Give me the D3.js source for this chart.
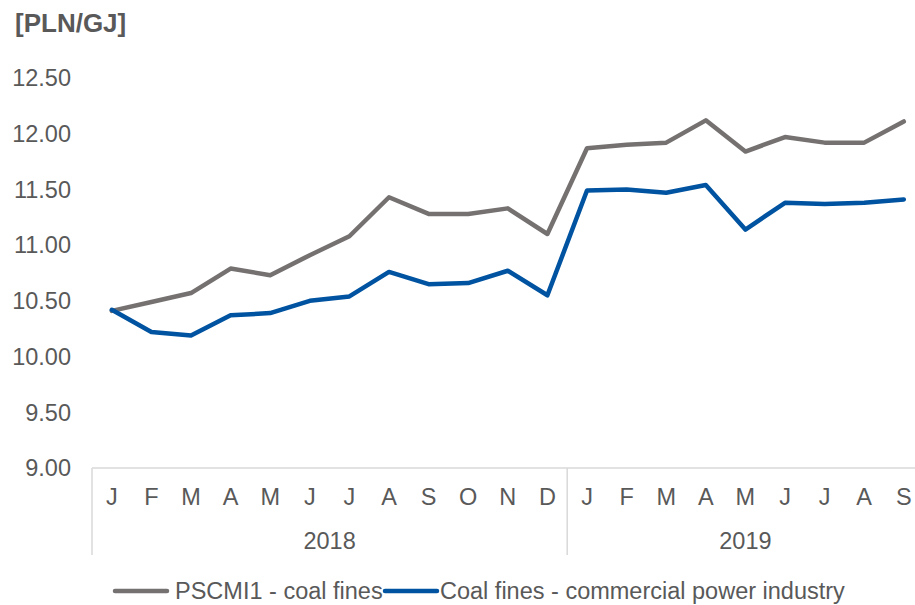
<!DOCTYPE html>
<html>
<head>
<meta charset="utf-8">
<script src="https://cdn.jsdelivr.net/npm/d3@7"></script>
<style>
  body { margin: 0; background: #fff; }
  svg { display: block; font-family: "Liberation Sans", Arial, sans-serif; }
</style>
</head>
<body>
<script>
// Months, two years
const months = ["J","F","M","A","M","J","J","A","S","O","N","D",
                "J","F","M","A","M","J","J","A","S"];
const years = [{name: "2018", n: 12}, {name: "2019", n: 9}];

// Series values [PLN/GJ]
const pscmi = [10.41, 10.49, 10.57, 10.79, 10.73, 10.91, 11.08, 11.43, 11.28, 11.28, 11.33, 11.10,
               11.87, 11.90, 11.92, 12.12, 11.84, 11.97, 11.92, 11.92, 12.11];
const power = [10.42, 10.22, 10.19, 10.37, 10.39, 10.50, 10.54, 10.76, 10.65, 10.66, 10.77, 10.55,
               11.49, 11.50, 11.47, 11.54, 11.14, 11.38, 11.37, 11.38, 11.41];

const yTicks = [9.0, 9.5, 10.0, 10.5, 11.0, 11.5, 12.0, 12.5];

const series = [
  {name: "PSCMI1 - coal fines", values: pscmi, color: "#767171"},
  {name: "Coal fines - commercial power industry", values: power, color: "#0053a0"}
];

const W = 915, H = 605;
const left = 92, bandW = 39.6;
const fs = 23.5;
const textColor = "#595959", axisColor = "#d9d9d9";

const svg = d3.select("body").append("svg")
    .attr("width", W)
    .attr("height", H);

const x = d3.scaleBand()
    .domain(d3.range(months.length))
    .range([left, left + bandW * months.length]);

const y = d3.scaleLinear()
    .domain([9, 12.5])
    .range([468, 78]);

// title
svg.append("text")
    .attr("x", 15).attr("y", 32)
    .attr("font-size", 26).attr("font-weight", "bold")
    .attr("fill", textColor)
    .text("[PLN/GJ]");

// y tick labels (no axis line)
svg.append("g").selectAll("text")
  .data(yTicks)
  .enter().append("text")
    .attr("x", 71)
    .attr("y", d => y(d))
    .attr("dy", "0.35em")
    .attr("text-anchor", "end")
    .attr("font-size", fs)
    .attr("fill", textColor)
    .text(d => d3.format(".2f")(d));

// x axis line
svg.append("line")
    .attr("x1", left).attr("x2", W)
    .attr("y1", y(9)).attr("y2", y(9))
    .attr("stroke", axisColor).attr("stroke-width", 1.5);

// year separators
let start = 0;
const seps = [0];
years.forEach(yr => { start += yr.n; seps.push(start); });
svg.append("g").selectAll("line")
  .data(seps.filter(i => i < months.length))
  .enter().append("line")
    .attr("x1", i => x(i)).attr("x2", i => x(i))
    .attr("y1", y(9)).attr("y2", 555)
    .attr("stroke", axisColor).attr("stroke-width", 1.5);

// month labels
svg.append("g").selectAll("text")
  .data(months)
  .enter().append("text")
    .attr("x", (d, i) => x(i) + x.bandwidth() / 2)
    .attr("y", 505)
    .attr("text-anchor", "middle")
    .attr("font-size", fs)
    .attr("fill", textColor)
    .text(d => d);

// year labels
let s0 = 0;
years.forEach(yr => {
  const a = x(s0), b = x(s0 + yr.n - 1) + x.bandwidth();
  svg.append("text")
      .attr("x", (a + b) / 2)
      .attr("y", 549)
      .attr("text-anchor", "middle")
      .attr("font-size", fs)
      .attr("fill", textColor)
      .text(yr.name);
  s0 += yr.n;
});

// lines
const line = d3.line()
    .x((d, i) => x(i) + x.bandwidth() / 2)
    .y(d => y(d));

svg.append("g").selectAll("path")
  .data(series)
  .enter().append("path")
    .attr("d", d => line(d.values))
    .attr("fill", "none")
    .attr("stroke", d => d.color)
    .attr("stroke-width", 4.5)
    .attr("stroke-linejoin", "round")
    .attr("stroke-linecap", "round");

// legend
const legend = svg.append("g");
const legPos = [{lx: 115, tx: 175}, {lx: 385, tx: 440}];
series.forEach((s, i) => {
  legend.append("line")
      .attr("x1", legPos[i].lx).attr("x2", legPos[i].lx + 52)
      .attr("y1", 591).attr("y2", 591)
      .attr("stroke", s.color).attr("stroke-width", 4.5)
      .attr("stroke-linecap", "round");
  legend.append("text")
      .attr("x", legPos[i].tx).attr("y", 591)
      .attr("dy", "0.35em")
      .attr("font-size", fs)
      .attr("fill", textColor)
      .text(s.name);
});
</script>
</body>
</html>
